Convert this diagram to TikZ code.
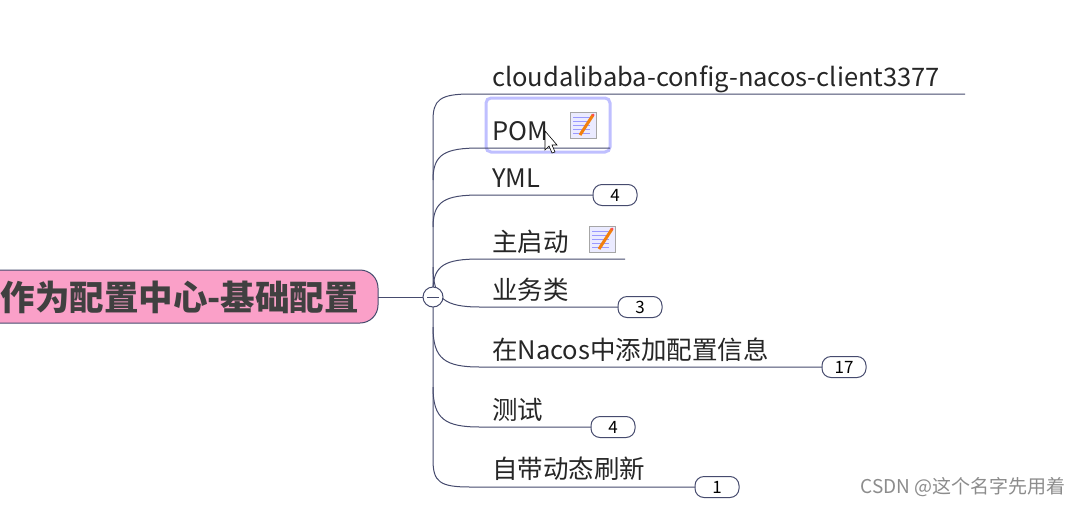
\documentclass[tikz,border=0pt]{standalone}
\usepackage{fontspec}
\newfontfamily\cjk{Noto Sans CJK SC}
\definecolor{lc}{RGB}{70,75,110}
\definecolor{pk}{RGB}{250,160,200}
\begin{document}
\begin{tikzpicture}[x=1pt,y=-1pt,
  line/.style={draw=lc,line width=1pt},
  lbl/.style={anchor=base west,inner sep=0pt,font=\cjk\fontsize{25.5}{26}\selectfont,text=black!85},
  badge/.style={draw=lc,line width=1pt,fill=white,rounded corners=9pt,minimum width=44pt,minimum height=21pt,inner sep=0pt,font=\cjk\fontsize{17}{17}\selectfont}]
\useasboundingbox (0,0) rectangle (1081,504);
\fill[white] (0,0) rectangle (1081,504);
\begin{scope}
\clip (0,0) rectangle (1081,504);
\draw[line,fill=pk,rounded corners=18pt] (-40,270) rectangle (378,323);
\end{scope}
\node[anchor=east,inner sep=0pt,font=\cjk\bfseries\fontsize{34.5}{35}\selectfont,text=black!75] (root) at (359,297) {作为配置中心-基础配置};
\coordinate (rootE) at (378,297);
\draw[blue!25,line width=3pt,rounded corners=5pt] (486,98) rectangle (610,152);
\draw[line] (433,297) -- (433,120) .. controls (433,100) and (440,94) .. (470,94) -- (965,94);
\draw[line] (433,297) -- (433,460) .. controls (433,482) and (440,487) .. (470,487) -- (695,487);
\draw[line] (rootE) -- (423,297);
\foreach \y/\xe in {148/610,195/593,259/625} {
  \draw[line] (433,\y+32) .. controls (433,\y+6) and (445,\y) .. (480,\y) -- (\xe,\y);
}
\foreach \y/\xe in {307/619,367/822,427/591} {
  \draw[line] (433,\y-40) .. controls (433,\y-8) and (445,\y) .. (480,\y) -- (\xe,\y);
}
\draw[line,fill=white] (433,297) circle (10);
\draw[line] (427,297) -- (439,297);
\node[circle,minimum size=20pt,inner sep=0pt] (hub) at (433,297) {};
\node[lbl] (n1) at (492,86) {cloudalibaba-config-nacos-client3377};
\node[lbl] (n2) at (492,140) {POM};
\node[lbl] (n3) at (492,187) {YML};
\node[lbl] (n4) at (492,251) {主启动};
\node[lbl] (n5) at (492,299) {业务类};
\node[lbl] (n6) at (492,359) {在Nacos中添加配置信息};
\node[lbl] (n7) at (492,419) {测试};
\node[lbl] (n8) at (492,478) {自带动态刷新};
\node[badge] (b3) at (615,195) {4};
\node[badge] (b5) at (640,307) {3};
\node[badge] (b6) at (844,367) {17};
\node[badge] (b7) at (613,427) {4};
\node[badge] (b8) at (717,487) {1};
\foreach \x/\y in {570/112,589/226} {
  \fill[blue!8] (\x,\y) rectangle (\x+26,\y+26);
  \draw[gray!70] (\x,\y) rectangle (\x+26,\y+26);
  \foreach \k in {5,9,13,17,21} \draw[blue!40] (\x+3,\y+\k) -- (\x+20,\y+\k);
  \draw[orange!80!brown,line width=3pt] (\x+10,\y+23) -- (\x+23,\y+3);
  \fill[red!70] (\x+23,\y+3) circle (1.5);
}
\fill[white,draw=black,line width=0.6pt] (545,131) -- (545,150) -- (549,146) -- (552,153) -- (555,152) -- (552,145) -- (557,145) -- cycle;
\node[anchor=base east,inner sep=0pt,font=\cjk\fontsize{19}{19}\selectfont,text=gray!90] (wm) at (1066,493) {CSDN @这个名字先用着};
\end{tikzpicture}
\end{document}
